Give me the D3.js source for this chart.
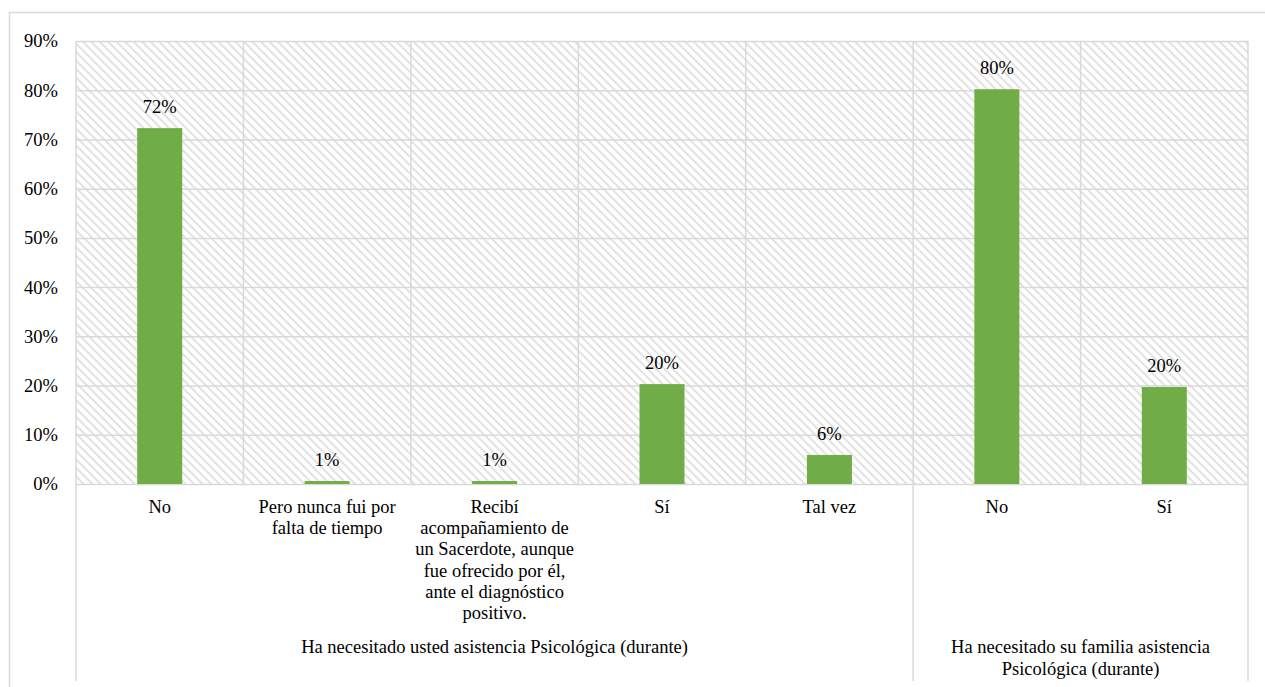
<!DOCTYPE html>
<html>
<head>
<meta charset="utf-8">
<script src="https://cdn.jsdelivr.net/npm/d3@7"></script>
<style>
  html, body { margin: 0; padding: 0; background: #ffffff; }
  svg { display: block; }
  text { font-family: "Liberation Serif", "Times New Roman", serif; fill: #000; }
</style>
</head>
<body>
<svg id="chart" width="1265" height="687"></svg>
<script>
// Category labels (one entry per line of the wrapped label)
const categoryLines = [
  ["No"],
  ["Pero nunca fui por", "falta de tiempo"],
  ["Recibí", "acompañamiento de", "un Sacerdote, aunque", "fue ofrecido por él,", "ante el diagnóstico", "positivo."],
  ["Sí"],
  ["Tal vez"],
  ["No"],
  ["Sí"]
];
const categoryKeys = ["c0", "c1", "c2", "c3", "c4", "c5", "c6"];
// Share of respondents per answer
const values = [0.723, 0.006, 0.006, 0.203, 0.059, 0.802, 0.197];
// Outer-level groups: label lines and how many categories each spans
const groupLines = [
  ["Ha necesitado usted asistencia Psicológica (durante)"],
  ["Ha necesitado su familia asistencia", "Psicológica (durante)"]
];
const groupSizes = [5, 2];
const yTicks = [0, 0.1, 0.2, 0.3, 0.4, 0.5, 0.6, 0.7, 0.8, 0.9];

const svg = d3.select("#chart");
const W = 1265, H = 687;
const plot = { left: 76, right: 1248, top: 41, bottom: 484 };
const fontSize = 18.5;
const fontFamily = "'Liberation Serif', 'Times New Roman', serif";
const gridColor = "#d9d9d9";
const barColor = "#70ad47";

// Diagonal hatch for the plot background
const defs = svg.append("defs");
const pat = defs.append("pattern")
  .attr("id", "hatch")
  .attr("patternUnits", "userSpaceOnUse")
  .attr("width", 6).attr("height", 6)
  .attr("patternTransform", "rotate(45)");
pat.append("rect").attr("width", 6).attr("height", 6).attr("fill", "#ffffff");
pat.append("rect").attr("x", 0).attr("y", 0).attr("width", 6).attr("height", 2).attr("fill", "#e2e2e2");

// Outer frame (extends past the right and bottom edges)
svg.append("rect")
  .attr("x", 9.5).attr("y", 12.5)
  .attr("width", W + 20).attr("height", H + 20)
  .attr("fill", "none").attr("stroke", gridColor).attr("stroke-width", 1.5);

const x = d3.scaleBand().domain(categoryKeys).range([plot.left, plot.right]).padding(0);
const y = d3.scaleLinear().domain([0, 0.9]).range([plot.bottom, plot.top]);
const barW = 45;

// Plot background
svg.append("rect")
  .attr("x", plot.left).attr("y", plot.top)
  .attr("width", plot.right - plot.left).attr("height", plot.bottom - plot.top)
  .attr("fill", "url(#hatch)");

// Horizontal gridlines and y-axis labels
const yAxis = d3.axisLeft(y).tickValues(yTicks).tickFormat(d3.format(".0%"))
  .tickSize(-(plot.right - plot.left)).tickPadding(18);
const gy = svg.append("g").attr("transform", `translate(${plot.left},0)`).call(yAxis);
gy.attr("font-family", fontFamily).attr("font-size", fontSize);
gy.select(".domain").remove();
gy.selectAll(".tick line").attr("stroke", gridColor).attr("stroke-width", 1.5);
gy.selectAll(".tick text").attr("fill", "#000");

// Vertical gridlines at category boundaries
const bounds = categoryKeys.map(k => x(k)).concat([plot.right]);
svg.append("g").selectAll("line").data(bounds).join("line")
  .attr("x1", d => d).attr("x2", d => d)
  .attr("y1", plot.top).attr("y2", plot.bottom)
  .attr("stroke", gridColor).attr("stroke-width", 1.5);

// Bars
svg.append("g").selectAll("rect").data(values).join("rect")
  .attr("x", (d, i) => x(categoryKeys[i]) + x.bandwidth() / 2 - barW / 2)
  .attr("width", barW)
  .attr("y", d => y(d))
  .attr("height", d => y(0) - y(d))
  .attr("fill", barColor);

// Value labels
svg.append("g").attr("font-family", fontFamily).attr("font-size", fontSize)
  .selectAll("text").data(values).join("text")
  .attr("x", (d, i) => x(categoryKeys[i]) + x.bandwidth() / 2)
  .attr("y", d => y(d) - 15)
  .attr("text-anchor", "middle")
  .text(d => d3.format(".0%")(d));

// Category labels
const lineH = 21.2;
const catG = svg.append("g").attr("font-family", fontFamily).attr("font-size", fontSize);
categoryLines.forEach((lines, i) => {
  const cx = x(categoryKeys[i]) + x.bandwidth() / 2;
  const t = catG.append("text").attr("text-anchor", "middle");
  lines.forEach((ln, j) => {
    t.append("tspan").attr("x", cx).attr("y", 513 + j * lineH).text(ln);
  });
});

// Group separators and group labels
let start = 0;
const groupBounds = [x(categoryKeys[0])];
groupSizes.forEach(n => {
  start += n;
  groupBounds.push(start < categoryKeys.length ? x(categoryKeys[start]) : plot.right);
});
svg.append("g").selectAll("line").data(groupBounds).join("line")
  .attr("x1", d => d).attr("x2", d => d)
  .attr("y1", plot.bottom).attr("y2", 681)
  .attr("stroke", gridColor).attr("stroke-width", 1.5);

const grpG = svg.append("g").attr("font-family", fontFamily).attr("font-size", fontSize);
groupLines.forEach((lines, i) => {
  const cx = (groupBounds[i] + groupBounds[i + 1]) / 2;
  const t = grpG.append("text").attr("text-anchor", "middle");
  lines.forEach((ln, j) => {
    t.append("tspan").attr("x", cx).attr("y", 653 + j * 22).text(ln);
  });
});
</script>
</body>
</html>
